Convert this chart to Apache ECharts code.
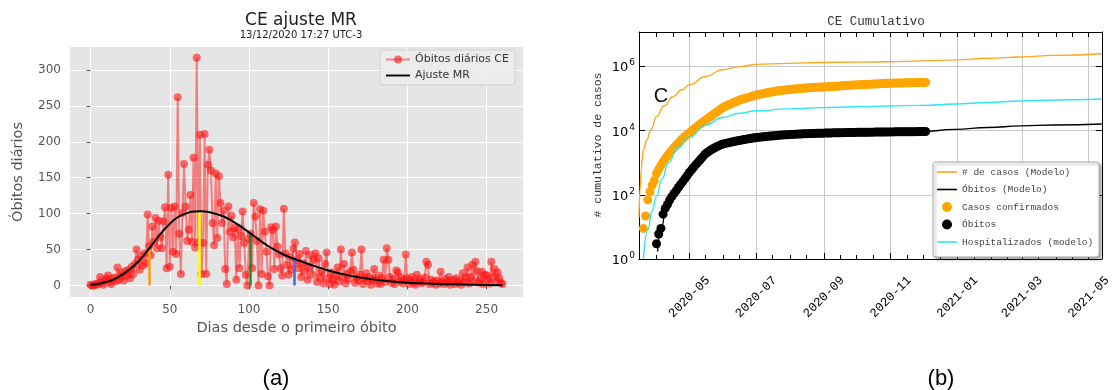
<!DOCTYPE html>
<html><head><meta charset="utf-8">
<script src="https://cdn.jsdelivr.net/npm/echarts@6/dist/echarts.min.js"></script>
<style>html,body{margin:0;padding:0;background:#fff}#c{width:1114px;height:390px}</style>
</head><body><div id="c"></div>
<script>
// ---------- Panel (a): daily deaths, days 0..260 ----------
const dailyDeaths = [
  1, 0, 0, 2, 1, 3, 12, 4, 1, 7,
  10, 14, 5, 2, 9, 11, 6, 25, 8, 14,
  18, 7, 20, 14, 22, 10, 26, 16, 30, 50,
  36, 22, 41, 28, 45, 31, 99, 55, 42, 82,
  61, 94, 52, 90, 67, 52, 89, 109, 24, 154,
  26, 108, 47, 110, 44, 262, 72, 16, 101, 169,
  110, 62, 78, 126, 61, 178, 53, 317, 60, 210,
  16, 59, 211, 16, 168, 189, 160, 87, 56, 156,
  66, 152, 115, 87, 104, 23, 2, 110, 75, 97,
  67, 80, 8, 78, 24, 69, 103, 59, 15, 0,
  65, 72, 24, 115, 96, 62, 0, 106, 16, 104,
  75, 47, 13, 0, 81, 77, 23, 82, 54, 43,
  24, 14, 107, 45, 29, 15, 40, 22, 51, 60,
  35, 24, 44, 12, 31, 20, 48, 8, 25, 42,
  15, 36, 45, 5, 38, 12, 20, 3, 30, 46,
  10, 2, 18, 8, 1, 14, 25, 6, 50, 12,
  30, 3, 16, 9, 20, 46, 22, 4, 11, 7,
  15, 50, 2, 10, 17, 6, 12, 1, 9, 23,
  8, 3, 14, 2, 10, 36, 5, 52, 36, 12,
  4, 9, 2, 21, 18, 6, 11, 3, 8, 43,
  10, 2, 7, 12, 4, 1, 15, 6, 9, 3,
  5, 11, 33, 29, 2, 8, 4, 6, 1, 7,
  3, 19, 5, 2, 9, 4, 12, 1, 6, 8,
  2, 10, 4, 7, 1, 17, 5, 11, 25, 3,
  12, 29, 6, 33, 20, 4, 9, 19, 2, 15,
  14, 8, 3, 33, 12, 23, 6, 18, 10, 4,
  2
];
const fitDays   = [0,5,10,15,20,25,30,35,40,45,50,55,60,65,70,75,80,85,90,95,100,105,110,115,120,125,130,135,140,145,150,160,170,180,190,200,210,220,230,240,250,260];
const fitValues = [1,2.5,5,9,15,23,33,46,60,74,86,95,100,103,103.5,102,99,95,89,82,74,66,58,51,45,40,36,32,28,24.5,21,15.5,11,8,5.5,4,3,2.2,1.6,1.1,0.8,0.5];
const phaseDays    = [37, 68.5, 101, 128.5];
const phaseHeights = [52, 104, 72, 38];
const phaseColors  = ['#f39c12', '#ffff00', '#1e8a1e', '#4a66d8'];
const xTicksA = [0, 50, 100, 150, 200, 250];
const yTicksA = [0, 50, 100, 150, 200, 250, 300];

// ---------- Panel (b): cumulative ----------
const modelCasesDates = ['2020-03-16','2020-03-17','2020-03-18','2020-03-19','2020-03-20','2020-03-23','2020-03-27','2020-04-01','2020-04-08','2020-04-16','2020-04-24','2020-05-01','2020-05-16','2020-05-31','2020-06-16','2020-07-01','2020-07-31','2020-08-30','2020-09-30','2020-10-30','2020-11-29','2020-12-30','2021-01-29','2021-02-28','2021-03-31','2021-05-13'];
const modelCasesValues = [20,150,600,1400,2500,5000,11000,27500,60000,115000,186000,270000,490000,794000,1000000,1175000,1260000,1350000,1380000,1410000,1510000,1620000,1820000,2000000,2240000,2510000];

const hospDates = ['2020-03-20','2020-03-24','2020-03-28','2020-04-01','2020-04-06','2020-04-12','2020-04-20','2020-05-01','2020-05-16','2020-05-31','2020-06-16','2020-07-01','2020-07-31','2020-08-30','2020-09-30','2020-10-30','2020-11-29','2020-12-30','2021-01-29','2021-02-28','2021-03-31','2021-05-13'];
const hospValues = [1,8,32,90,320,1000,2800,6300,15000,26000,35000,42000,48000,52500,56000,59000,62000,68000,76000,85000,91000,98000];

const modelDeathsDates = ['2020-04-02','2020-04-05','2020-04-10','2020-04-16','2020-04-22','2020-05-01','2020-05-10','2020-05-20','2020-05-31','2020-06-16','2020-07-01','2020-07-31','2020-08-30','2020-09-30','2020-10-30','2020-11-29','2020-12-30','2021-01-29','2021-02-28','2021-03-31','2021-05-13'];
const modelDeathsValues = [1.7,8,40,100,200,500,1150,2400,3800,5100,6400,7400,8300,8900,9200,9400,11000,12600,14100,15100,16200];

// confirmed cases, one reading every 2 days starting 2020-03-20
const casesStart = '2020-03-20';
const casesValues = [
  9, 22, 70, 125, 200, 280,
  470, 630, 830, 1070, 1350, 1660, 2040, 2450, 2950, 3550, 4170, 4900, 5750, 6600, 7600,
  8500, 9800, 11200, 12600, 14500, 16200, 18200, 20400, 22900, 25700, 28800, 32400, 36300, 40700, 45700, 51300,
  56200, 60300, 64600, 69200, 74100, 79400, 85100, 91200, 95500, 100000, 104700, 109600, 114800, 120200, 125900,
  131800, 136000, 141000, 144500, 149600, 155000, 158500, 164000, 168000, 172000, 176000, 180000, 184000, 188000, 193000,
  195000, 197000, 200000, 203000, 205000, 208000, 211000, 214000, 217000, 220000, 222000, 224000, 226000, 228000, 229500, 231000,
  233000, 235000, 237000, 239000, 241000, 243000, 246000, 249000, 252000, 255000, 258000, 261000, 264000, 267000, 269000,
  271000, 273000, 275000, 277000, 279000, 281000, 283000, 285000, 287000, 289000, 292000, 295000, 298000, 300000, 302000,
  303000, 304000, 305500, 307000, 308000, 309000, 310500, 312000, 313000, 314000, 315000, 316000, 317000, 318000, 319000,
  320000, 321000
];
// deaths, one reading every 2 days starting 2020-04-01
const deathsStart = '2020-04-01';
const deathsValues = [
  3, 6, 9, 25, 38, 50, 69, 88, 110, 135, 170, 210, 260, 320, 400,
  500, 600, 730, 880, 1050, 1250, 1500, 1800, 2050, 2300, 2550, 2800, 3050, 3300, 3550, 3800,
  3950, 4100, 4250, 4400, 4550, 4700, 4850, 5000, 5150, 5300, 5450, 5600, 5750, 5900, 6050,
  6200, 6300, 6400, 6500, 6600, 6700, 6800, 6900, 7000, 7100, 7200, 7300, 7400, 7480, 7560,
  7640, 7700, 7760, 7820, 7880, 7940, 8000, 8050, 8100, 8150, 8200, 8250, 8300, 8340, 8380, 8420,
  8460, 8490, 8520, 8550, 8580, 8610, 8640, 8670, 8700, 8730, 8760, 8790, 8820, 8850, 8880,
  8900, 8920, 8940, 8960, 8980, 9000, 9020, 9040, 9060, 9080, 9100, 9120, 9140, 9160, 9180,
  9200, 9215, 9230, 9245, 9260, 9275, 9290, 9305, 9320, 9335, 9350, 9365, 9380, 9395, 9410,
  9425, 9440
];

const majorMonthTicks = ['2020-05-01','2020-07-01','2020-09-01','2020-11-01','2021-01-01','2021-03-01','2021-05-01'];
const logTicks = [1, 100, 10000, 1000000];

// ---------- build ----------
const DAY = 86400000;
function ts(s){ const p = s.split('-').map(Number); return Date.UTC(p[0], p[1]-1, p[2]); }
const majorTs = majorMonthTicks.map(ts);
const tMin = ts('2020-03-16'), tMax = ts('2021-05-13');
const allHalfMonth = [];
for (let y = 2020, m = 2; y < 2021 || m <= 4; ) {
  [1, 16].forEach(d => { const t = Date.UTC(y, m, d); if (t >= tMin && t <= tMax) allHalfMonth.push(t); });
  m++; if (m > 11) { m = 0; y++; }
}
const minorTs = allHalfMonth.filter(t => majorTs.indexOf(t) < 0);
const pair = (ds, vs) => ds.map((d, i) => [ts(d), vs[i]]);
const stepPair = (start, vs) => vs.map((v, i) => [ts(start) + i * 2 * DAY, v]);
const fmtMonth = v => { const d = new Date(v); return d.getUTCFullYear() + '-' + String(d.getUTCMonth() + 1).padStart(2, '0'); };
const lineIcon = 'path://M0,0 L30,0 L30,2.4 L0,2.4 Z';

const chart = echarts.init(document.getElementById('c'), null, {renderer: 'canvas'});
const mono = 'Liberation Mono';
const sans = 'DejaVu Sans';

const option = {
  animation: false,
  backgroundColor: '#fff',
  title: [
    {text: 'CE ajuste MR', subtext: '13/12/2020 17:27 UTC-3', left: 296, top: 7, textAlign: 'center', itemGap: 1,
     textStyle: {fontFamily: sans, fontSize: 17, fontWeight: 'normal', color: '#222'},
     subtextStyle: {fontFamily: sans, fontSize: 10, color: '#222'}},
    {text: 'CE Cumulativo', left: 871, top: 10, textAlign: 'center',
     textStyle: {fontFamily: mono, fontSize: 12.5, fontWeight: 'normal', color: '#333'}},
    {text: '(a)', left: 271, top: 363, textAlign: 'center',
     textStyle: {fontFamily: 'Liberation Sans', fontSize: 22, fontWeight: 'normal', color: '#000'}},
    {text: '(b)', left: 936, top: 363, textAlign: 'center',
     textStyle: {fontFamily: 'Liberation Sans', fontSize: 22, fontWeight: 'normal', color: '#000'}}
  ],
  legend: [
    {data: ['Óbitos diários CE', {name: 'Ajuste MR', icon: lineIcon}], orient: 'vertical', left: 380, top: 50,
     itemWidth: 24, itemHeight: 10, itemGap: 5, padding: [4, 6, 4, 5],
     backgroundColor: 'rgba(236,236,236,0.9)', borderColor: '#d0d0d0', borderWidth: 1, borderRadius: 2,
     textStyle: {fontFamily: sans, fontSize: 11, color: '#333'}},
    {data: [{name: '# de casos (Modelo)', icon: lineIcon}, {name: 'Óbitos (Modelo)', icon: lineIcon},
            {name: 'Casos confirmados', icon: 'circle'}, {name: 'Óbitos', icon: 'circle'},
            {name: 'Hospitalizados (modelo)', icon: lineIcon}],
     orient: 'vertical', left: 933, top: 162, itemWidth: 20, itemHeight: 10, itemGap: 7.5, padding: [5, 6, 10, 4],
     backgroundColor: '#fff', borderColor: '#aaa', borderWidth: 1, borderRadius: 3,
     shadowBlur: 3, shadowColor: 'rgba(0,0,0,0.35)', shadowOffsetX: 2, shadowOffsetY: 2,
     textStyle: {fontFamily: mono, fontSize: 9.5, color: '#444'}}
  ],
  grid: [
    {left: 70, top: 47, width: 453, height: 250, backgroundColor: '#e5e5e5', show: true, borderWidth: 0},
    {left: 639, top: 32, width: 464, height: 227, show: false}
  ],
  xAxis: [
    {gridIndex: 0, type: 'value', min: -13, max: 273,
     axisLine: {show: false},
     axisTick: {show: true, customValues: xTicksA, length: 4, lineStyle: {color: '#555'}},
     axisLabel: {customValues: xTicksA, color: '#555', fontSize: 12, fontFamily: sans, margin: 7},
     splitLine: {show: true, lineStyle: {color: '#fff', width: 1}},
     name: 'Dias desde o primeiro óbito', nameLocation: 'middle', nameGap: 22,
     nameTextStyle: {color: '#555', fontSize: 14.5, fontFamily: sans}},
    {gridIndex: 1, type: 'value', min: tMin, max: tMax, position: 'bottom',
     axisLine: {show: true, lineStyle: {color: '#000', width: 1}},
     axisTick: {show: true, customValues: majorTs, inside: true, length: 6, lineStyle: {color: '#000'}},
     axisLabel: {customValues: majorTs, rotate: 45, align: 'center', verticalAlign: 'middle', margin: 38,
       fontFamily: mono, fontSize: 12.5, color: '#000', formatter: fmtMonth},
     splitLine: {show: true, lineStyle: {color: '#c8c8c8', width: 1}}},
    {gridIndex: 1, type: 'value', min: tMin, max: tMax, position: 'bottom',
     axisLine: {show: false}, axisLabel: {show: false}, splitLine: {show: false},
     axisTick: {show: true, customValues: minorTs, inside: true, length: 4, lineStyle: {color: '#000'}}},
    {gridIndex: 1, type: 'value', min: tMin, max: tMax, position: 'top',
     axisLine: {show: true, lineStyle: {color: '#000', width: 1}}, axisLabel: {show: false}, splitLine: {show: false},
     axisTick: {show: true, customValues: allHalfMonth, inside: true, length: 5, lineStyle: {color: '#000'}}}
  ],
  yAxis: [
    {gridIndex: 0, type: 'value', min: -16, max: 332,
     axisLine: {show: false},
     axisTick: {show: true, customValues: yTicksA, length: 4, lineStyle: {color: '#555'}},
     axisLabel: {customValues: yTicksA, color: '#555', fontSize: 12, fontFamily: sans, margin: 9},
     splitLine: {show: true, lineStyle: {color: '#fff', width: 1}},
     name: 'Óbitos diários', nameLocation: 'middle', nameGap: 44,
     nameTextStyle: {color: '#555', fontSize: 14.5, fontFamily: sans}},
    {gridIndex: 1, type: 'log', logBase: 10, min: 1, max: 12000000, position: 'left',
     axisLine: {show: true, lineStyle: {color: '#000', width: 1}},
     axisTick: {show: true, customValues: logTicks, inside: true, length: 6, lineStyle: {color: '#000'}},
     axisLabel: {customValues: logTicks, margin: 4,
       formatter: v => '{b|10}{s|' + Math.round(Math.log10(v)) + '}',
       rich: {b: {fontFamily: sans, fontSize: 13, color: '#000', lineHeight: 16, verticalAlign: 'bottom'},
              s: {fontFamily: sans, fontSize: 9, color: '#000', verticalAlign: 'top', padding: [0, 0, 0, 1]}}},
     splitLine: {show: true, lineStyle: {color: '#c8c8c8', width: 1}}},
    {gridIndex: 1, type: 'log', logBase: 10, min: 1, max: 12000000, position: 'right',
     axisLine: {show: true, lineStyle: {color: '#000', width: 1}},
     axisTick: {show: true, customValues: logTicks, inside: true, length: 6, lineStyle: {color: '#000'}},
     axisLabel: {show: false}, splitLine: {show: false}}
  ],
  graphic: [
    {type: 'text', x: 598, y: 145, rotation: Math.PI / 2,
     style: {text: '# cumulativo de casos', font: '11.5px "Liberation Mono"', fill: '#333', align: 'center', verticalAlign: 'middle'}},
    {type: 'text', x: 661, y: 96,
     style: {text: 'C', font: '20px "Liberation Sans"', fill: '#111', align: 'center', verticalAlign: 'middle'}}
  ],
  series: [
    {name: 'Óbitos diários CE', type: 'line', xAxisIndex: 0, yAxisIndex: 0,
     data: dailyDeaths.map((v, i) => [i, v]),
     symbol: 'circle', symbolSize: 8, showAllSymbol: true,
     lineStyle: {color: 'rgba(255,0,0,0.45)', width: 2},
     itemStyle: {color: 'rgba(255,20,20,0.6)'},
     emphasis: {disabled: true},
     markLine: {silent: true, symbol: ['none', 'none'], label: {show: false}, animation: false,
       data: phaseDays.map((d, i) => [
         {coord: [d, 0], lineStyle: {color: phaseColors[i], width: 2.5, type: 'solid'}},
         {coord: [d, phaseHeights[i]]}])}},
    {name: 'Ajuste MR', type: 'line', xAxisIndex: 0, yAxisIndex: 0,
     data: fitDays.map((d, i) => [d, fitValues[i]]),
     smooth: true, symbol: 'none', lineStyle: {color: '#000', width: 2}, itemStyle: {color: '#000'}, z: 5},

    {name: 'Hospitalizados (modelo)', type: 'line', xAxisIndex: 1, yAxisIndex: 1,
     data: pair(hospDates, hospValues), smooth: true, smoothMonotone: 'x', symbol: 'none',
     lineStyle: {color: '#2ee6f2', width: 1.4}, itemStyle: {color: '#2ee6f2'}},
    {name: '# de casos (Modelo)', type: 'line', xAxisIndex: 1, yAxisIndex: 1,
     data: pair(modelCasesDates, modelCasesValues), smooth: true, smoothMonotone: 'x', symbol: 'none',
     lineStyle: {color: '#ffa520', width: 1.4}, itemStyle: {color: '#ffa520'}},
    {name: 'Óbitos (Modelo)', type: 'line', xAxisIndex: 1, yAxisIndex: 1,
     data: pair(modelDeathsDates, modelDeathsValues), smooth: true, smoothMonotone: 'x', symbol: 'none',
     lineStyle: {color: '#000', width: 1.3}, itemStyle: {color: '#000'}},
    {name: 'Casos confirmados', type: 'scatter', xAxisIndex: 1, yAxisIndex: 1,
     data: stepPair(casesStart, casesValues), symbol: 'circle', symbolSize: 9,
     itemStyle: {color: '#ffa500', opacity: 1}},
    {name: 'Óbitos', type: 'scatter', xAxisIndex: 1, yAxisIndex: 1,
     data: stepPair(deathsStart, deathsValues), symbol: 'circle', symbolSize: 9,
     itemStyle: {color: '#000', opacity: 1}}
  ]
};
chart.setOption(option);
</script>
</body></html>
